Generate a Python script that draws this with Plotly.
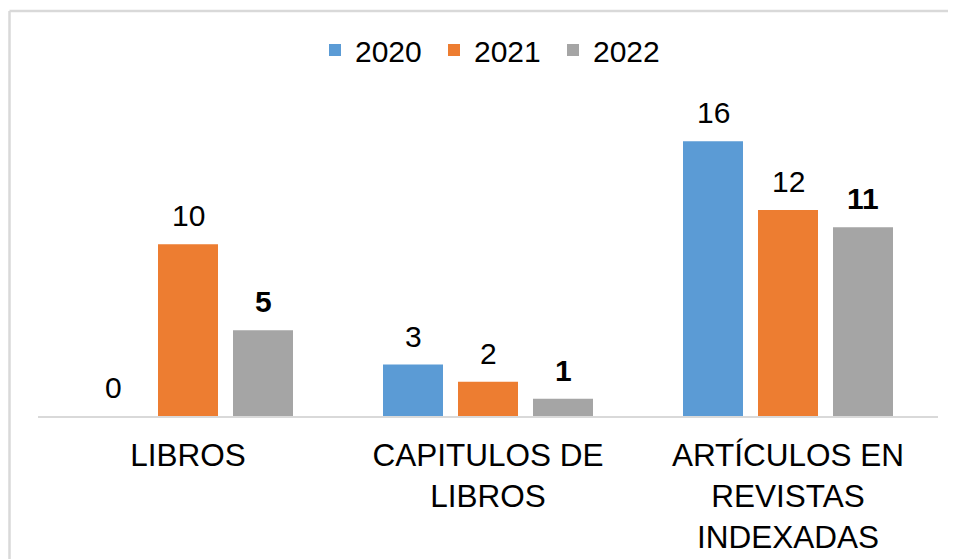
import plotly.graph_objects as go

categories = ["LIBROS", "CAPITULOS DE<br>LIBROS", "ARTÍCULOS EN<br>REVISTAS<br>INDEXADAS"]
years = ["2020", "2021", "2022"]
values = {
    "2020": [0, 3, 16],
    "2021": [10, 2, 12],
    "2022": [5, 1, 11],
}
colors = {"2020": "#5B9BD5", "2021": "#ED7D31", "2022": "#A5A5A5"}
bold_labels = {"2020": False, "2021": False, "2022": True}

FONT = "Arial, 'Liberation Sans', sans-serif"

fig = go.Figure()
for yr in years:
    fig.add_trace(go.Bar(
        name=yr, x=categories, y=values[yr],
        marker=dict(color=colors[yr], line=dict(width=0)),
    ))

# value labels above each bar, shifted to the bar's slot in the group
slot_px = 75
for i, yr in enumerate(years):
    for cat, v in zip(categories, values[yr]):
        txt = f"<b>{v}</b>" if bold_labels[yr] else str(v)
        fig.add_annotation(
            x=cat, y=v, xref="x", yref="y", text=txt, showarrow=False,
            xshift=(i - 1) * slot_px, yanchor="bottom", yshift=10,
            font=dict(family=FONT, size=30, color="#000000"),
        )

# page body has an 8px margin, so the figure is laid out 8px up/left
L, R, T, B = 30, 26, 99, 151
W, H = 956, 559
pw, ph = W - L - R, H - T - B

# outer chart border: only the top and left edges are inside the picture
bx, by = (1.5 - L) / pw, (H - B - 3) / ph
for x0, y0, x1, y1 in [(bx, by, (W + 40 - L) / pw, by), (bx, -(B + 40) / ph, bx, by)]:
    fig.add_shape(
        type="line", xref="paper", yref="paper", x0=x0, y0=y0, x1=x1, y1=y1,
        line=dict(color="#D9D9D9", width=2.5), layer="below",
    )

fig.update_layout(
    width=W, height=H,
    margin=dict(l=L, r=R, t=T, b=B),
    paper_bgcolor="white", plot_bgcolor="white",
    barmode="group", bargap=0.25, bargroupgap=0.2,
    font=dict(family=FONT, size=30, color="#000000"),
    showlegend=True,
    legend=dict(
        orientation="h", xref="container", x=307 / W, xanchor="left",
        yref="container", y=1 - 42 / H, yanchor="middle",
        font=dict(size=30), bgcolor="rgba(0,0,0,0)",
        entrywidth=74, entrywidthmode="pixels",
    ),
    xaxis=dict(
        showline=True, linecolor="#D9D9D9", linewidth=2,
        ticks="outside", ticklen=10, tickcolor="rgba(0,0,0,0)",
        tickfont=dict(size=31.5), showgrid=False,
    ),
    yaxis=dict(range=[0, 18], visible=False, showgrid=False, zeroline=False),
)

fig.write_html("out.html")
